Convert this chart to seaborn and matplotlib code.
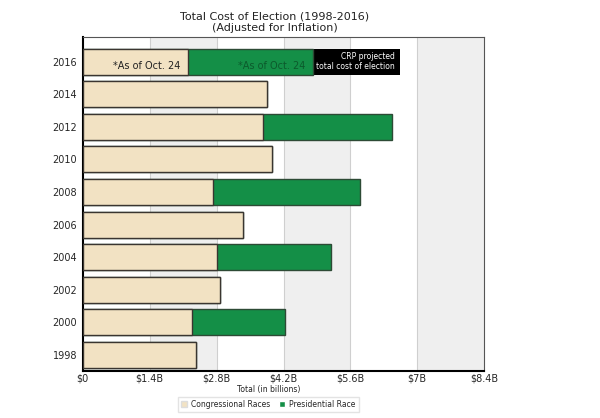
import matplotlib
matplotlib.use("Agg")
import matplotlib.pyplot as plt
import matplotlib.patches as mpatches
import pandas as pd
import seaborn as sns

# values in billions of dollars
years = ["2016", "2014", "2012", "2010", "2008", "2006", "2004", "2002", "2000", "1998"]
congressional = [2.20, 3.85, 3.77, 3.95, 2.73, 3.35, 2.81, 2.88, 2.29, 2.37]
presidential = [2.61, 0, 2.70, 0, 3.07, 0, 2.39, 0, 1.94, 0]
projected_2016 = 6.63

ticks = [0, 1.4, 2.8, 4.2, 5.6, 7, 8.4]
tick_labels = ["$0", "$1.4B", "$2.8B", "$4.2B", "$5.6B", "$7B", "$8.4B"]

BEIGE = "#f2e2c3"
GREEN = "#148f47"
DARK_GREEN = "#0c5a2c"

df = pd.DataFrame({"year": years, "congressional": congressional, "presidential": presidential})
df["total"] = df["congressional"] + df["presidential"]
proj = pd.DataFrame({"year": years, "projected": [projected_2016] + [0] * (len(years) - 1)})

sns.set_style("white")
plt.rcParams["font.family"] = ["DejaVu Sans"]

fig = plt.figure(figsize=(6, 4.18), dpi=100)
ax = fig.add_axes([0.138, 0.112, 0.669, 0.799])

# alternating background bands + grid
for lo, hi in [(1.4, 2.8), (4.2, 5.6), (7.0, 8.4)]:
    ax.axvspan(lo, hi, color="#efefef", zorder=0, lw=0)
for t in ticks[1:-1]:
    ax.axvline(t, color="#cfcfcf", lw=0.8, zorder=0.5)

# draw longest first so the stacks overlap correctly
sns.barplot(data=proj, x="projected", y="year", order=years, color="black",
            width=0.8, linewidth=0, ax=ax, zorder=2)
sns.barplot(data=df, x="total", y="year", order=years, color=GREEN, saturation=1,
            width=0.8, edgecolor="#2d4a35", linewidth=1.0, ax=ax, zorder=3)
sns.barplot(data=df, x="congressional", y="year", order=years, color=BEIGE, saturation=1,
            width=0.8, edgecolor="#3a3530", linewidth=1.0, ax=ax, zorder=4)

# annotations on the 2016 row
ax.text(2.20 - 0.15, 0.3, "*As of Oct. 24", ha="right", va="bottom", fontsize=7,
        color="#222222", zorder=5)
ax.text(2.20 + 2.61 - 0.15, 0.3, "*As of Oct. 24", ha="right", va="bottom", fontsize=7,
        color=DARK_GREEN, zorder=5)
ax.text(projected_2016 - 0.1, 0.0, "CRP projected\ntotal cost of election", ha="right",
        va="center", fontsize=5.5, color="white", linespacing=1.1, zorder=5)

ax.set_xlim(0, 8.4)
ax.set_ylim(9.5, -0.75)
ax.set_xticks(ticks)
ax.set_xticklabels(tick_labels, fontsize=7)
ax.tick_params(axis="y", labelsize=7, length=0, pad=4)
ax.tick_params(axis="x", length=0, pad=2)
ax.set_xlabel("")
ax.set_ylabel("")

for side in ["top", "right"]:
    ax.spines[side].set_color("#555555")
    ax.spines[side].set_linewidth(0.8)
for side in ["left", "bottom"]:
    ax.spines[side].set_color("black")
    ax.spines[side].set_linewidth(1.5)

fig.text(0.458, 0.947, "Total Cost of Election (1998-2016)\n(Adjusted for Inflation)",
         ha="center", va="center", fontsize=8, color="#222222", linespacing=1.15)
fig.text(0.447, 0.069, "Total (in billions)", ha="center", va="center", fontsize=5.5,
         color="#222222")

handles = [mpatches.Patch(facecolor=BEIGE, edgecolor="#dddddd", label="Congressional Races"),
           mpatches.Patch(facecolor=GREEN, label="Presidential Race")]
fig.legend(handles=handles, loc="center", bbox_to_anchor=(0.447, 0.033), ncol=2,
           fontsize=5.5, frameon=True, edgecolor="#dddddd", fancybox=False,
           handlelength=0.8, handleheight=0.8, columnspacing=1.2, handletextpad=0.5,
           borderpad=0.4)

fig.savefig("out.png", dpi=100)
